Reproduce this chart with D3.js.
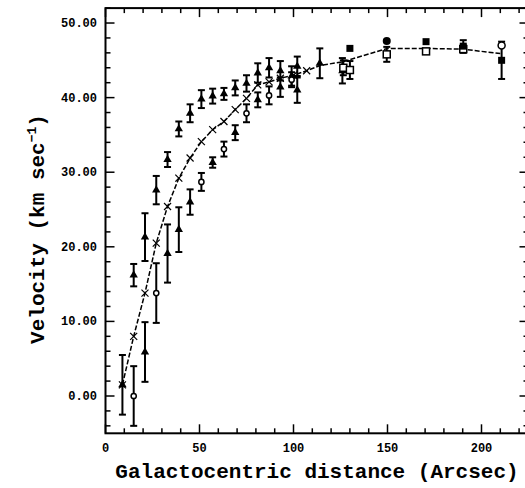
<!DOCTYPE html>
<html>
<head>
<meta charset="utf-8">
<script src="https://cdn.jsdelivr.net/npm/d3@7"></script>
<style>
  html, body { margin: 0; padding: 0; background: #fff; }
  svg { display: block; }
  .tick-label { font-family: "Liberation Mono", "DejaVu Sans Mono", monospace; font-weight: bold; font-size: 12px; fill: #000; }
  .title { font-family: "Liberation Mono", "DejaVu Sans Mono", monospace; font-weight: bold; font-size: 21px; fill: #000; }
</style>
</head>
<body>
<svg id="chart" width="525" height="488"></svg>
<script>
// ---- Data ----
const xTicks = [0, 50, 100, 150, 200];
const xTickLabels = ["0", "50", "100", "150", "200"];
const yTicks = [0, 10, 20, 30, 40, 50];
const yTickLabels = ["0.00", "10.00", "20.00", "30.00", "40.00", "50.00"];

// model rotation curve (dashed line); crosses drawn on the first points
const modelX = [9, 15, 21, 27, 33, 39, 45, 51, 57, 63, 69, 75, 81, 87, 93, 100, 107, 114, 126, 130, 150, 170, 190, 210];
const modelY = [1.5, 8.0, 13.8, 20.5, 25.4, 29.2, 31.9, 34.1, 35.7, 36.8, 38.4, 39.9, 41.7, 42.1, 42.6, 43.0, 43.6, 44.3, 44.8, 45.1, 46.6, 46.6, 46.5, 45.9];
const crossCount = 17;

// filled triangles, upper branch
const triUpX   = [15, 21, 27, 33, 39, 45, 51, 57, 63, 69, 75, 81, 87, 93, 99, 102, 114, 126];
const triUpY   = [16.2, 21.3, 27.6, 31.7, 35.8, 37.9, 39.8, 40.2, 40.5, 41.3, 41.9, 43.3, 44.0, 43.6, 42.9, 44.2, 44.6, 43.6];
const triUpErr = [1.5, 3.2, 1.9, 1.0, 1.0, 1.2, 1.2, 1.0, 0.8, 1.0, 1.1, 1.3, 1.3, 1.3, 1.3, 1.3, 2.0, 1.7];

// filled triangles, lower branch
const triLowX   = [9, 21, 33, 39, 45, 57, 69, 81, 93, 102];
const triLowY   = [1.5, 5.9, 19.1, 22.3, 26.0, 31.3, 35.3, 39.7, 41.4, 41.0];
const triLowErr = [4.0, 4.0, 3.9, 3.0, 1.7, 0.7, 1.0, 1.0, 1.3, 1.7];

// open circles, lower branch
const circX   = [15, 27, 51, 63, 75, 87, 99];
const circY   = [0.0, 13.8, 28.7, 33.1, 37.9, 40.3, 42.4];
const circErr = [4.0, 4.0, 1.2, 1.0, 1.2, 1.2, 1.0];

// outer points
const fSqX   = [130, 170.5, 190.3, 210.7];
const fSqY   = [46.6, 47.5, 46.9, 45.0];
const fSqErr = [0, 0, 0.8, 2.5];
const fCircX = [149.6];
const fCircY = [47.6];
const oSqX   = [126.5, 130, 149.6, 170.5, 190.3];
const oSqY   = [44.0, 43.7, 45.8, 46.2, 46.5];
const oSqErr = [1.0, 1.2, 1.0, 0, 0.5];
const oCircX = [210.7];
const oCircY = [47.0];

// ---- Chart ----
(function () {
const svg = d3.select("#chart");
const x = d3.scaleLinear().domain([0, 225]).range([105.5, 528.5]);
const y = d3.scaleLinear().domain([-5, 52]).range([433.3, 8.1]);

const pLeft = x(0), pRight = x(225), pTop = y(52), pBottom = y(-5);

// frame
svg.append("rect").attr("x", pLeft).attr("y", pTop).attr("width", pRight - pLeft).attr("height", pBottom - pTop)
  .attr("fill", "none").attr("stroke", "#000").attr("stroke-width", 2);

// ticks
const g = svg.append("g").attr("stroke", "#000").attr("stroke-width", 1.5);
d3.range(0, 226, 10).forEach(v => {
  const len = v % 50 === 0 ? 9 : 5;
  g.append("line").attr("x1", x(v)).attr("x2", x(v)).attr("y1", pBottom).attr("y2", pBottom - len);
  g.append("line").attr("x1", x(v)).attr("x2", x(v)).attr("y1", pTop).attr("y2", pTop + len);
});
d3.range(-4, 53, 2).forEach(v => {
  const len = v % 10 === 0 ? 9 : 5;
  g.append("line").attr("x1", pLeft).attr("x2", pLeft + len).attr("y1", y(v)).attr("y2", y(v));
  g.append("line").attr("x1", pRight).attr("x2", pRight - len).attr("y1", y(v)).attr("y2", y(v));
});

// tick labels
svg.selectAll(".xl").data(xTicks).enter().append("text")
  .attr("class", "tick-label").attr("x", d => x(d)).attr("y", 452)
  .attr("text-anchor", "middle").text((d, i) => xTickLabels[i]);
svg.selectAll(".yl").data(yTicks).enter().append("text")
  .attr("class", "tick-label").attr("x", 97).attr("y", d => y(d) + 4)
  .attr("text-anchor", "end").text((d, i) => yTickLabels[i]);

// titles
svg.append("text").attr("class", "title").attr("x", 317).attr("y", 478)
  .attr("text-anchor", "middle").text("Galactocentric distance (Arcsec)");
const yt = svg.append("text").attr("class", "title")
  .attr("transform", "translate(44,229) rotate(-90)").attr("text-anchor", "middle");
yt.append("tspan").text("Velocity (km sec");
yt.append("tspan").attr("font-size", "13px").attr("dy", -8).text("\u22121");
yt.append("tspan").attr("dy", 8).text(")");

// model line
const model = modelX.map((v, i) => [v, modelY[i]]);
svg.append("path").datum(model)
  .attr("d", d3.line().x(d => x(d[0])).y(d => y(d[1])))
  .attr("fill", "none").attr("stroke", "#000").attr("stroke-width", 1.5)
  .attr("stroke-dasharray", "5,2");
// crosses
const cr = svg.append("g").attr("stroke", "#000").attr("stroke-width", 1.2);
model.slice(0, crossCount).forEach(d => {
  const cx = x(d[0]), cy = y(d[1]), s = 3.5;
  cr.append("line").attr("x1", cx - s).attr("x2", cx + s).attr("y1", cy - s).attr("y2", cy + s);
  cr.append("line").attr("x1", cx - s).attr("x2", cx + s).attr("y1", cy + s).attr("y2", cy - s);
});

// error bars
function errBars(xs, ys, es) {
  const eg = svg.append("g").attr("stroke", "#000").attr("stroke-width", 2);
  xs.forEach((v, i) => {
    if (!es[i]) return;
    const cx = x(v), y1 = y(ys[i] + es[i]), y2 = y(ys[i] - es[i]);
    eg.append("line").attr("x1", cx).attr("x2", cx).attr("y1", y1).attr("y2", y2);
    eg.append("line").attr("x1", cx - 3.5).attr("x2", cx + 3.5).attr("y1", y1).attr("y2", y1);
    eg.append("line").attr("x1", cx - 3.5).attr("x2", cx + 3.5).attr("y1", y2).attr("y2", y2);
  });
}
errBars(triUpX, triUpY, triUpErr);
errBars(triLowX, triLowY, triLowErr);
errBars(circX, circY, circErr);
errBars(fSqX, fSqY, fSqErr);
errBars(oSqX, oSqY, oSqErr);

// markers
const tri = d3.symbol().type(d3.symbolTriangle).size(30);
function triangles(xs, ys) {
  svg.append("g").selectAll("path").data(xs).enter().append("path")
    .attr("d", tri).attr("transform", (d, i) => `translate(${x(d)},${y(ys[i])})`)
    .attr("fill", "#000");
}
triangles(triUpX, triUpY);
triangles(triLowX, triLowY);

svg.append("g").selectAll("circle").data(circX).enter().append("circle")
  .attr("cx", d => x(d)).attr("cy", (d, i) => y(circY[i])).attr("r", 2.6)
  .attr("fill", "#fff").attr("stroke", "#000").attr("stroke-width", 1.5);

svg.append("g").selectAll("rect").data(oSqX).enter().append("rect")
  .attr("x", d => x(d) - 3.5).attr("y", (d, i) => y(oSqY[i]) - 3.5).attr("width", 7).attr("height", 7)
  .attr("fill", "#fff").attr("stroke", "#000").attr("stroke-width", 1.5);
svg.append("g").selectAll("rect").data(fSqX).enter().append("rect")
  .attr("x", d => x(d) - 3.5).attr("y", (d, i) => y(fSqY[i]) - 3.5).attr("width", 7).attr("height", 7)
  .attr("fill", "#000");
svg.append("g").selectAll("circle").data(fCircX).enter().append("circle")
  .attr("cx", d => x(d)).attr("cy", (d, i) => y(fCircY[i])).attr("r", 4)
  .attr("fill", "#000");
svg.append("g").selectAll("circle").data(oCircX).enter().append("circle")
  .attr("cx", d => x(d)).attr("cy", (d, i) => y(oCircY[i])).attr("r", 3.5)
  .attr("fill", "#fff").attr("stroke", "#000").attr("stroke-width", 1.5);
})();
</script>
</body>
</html>
